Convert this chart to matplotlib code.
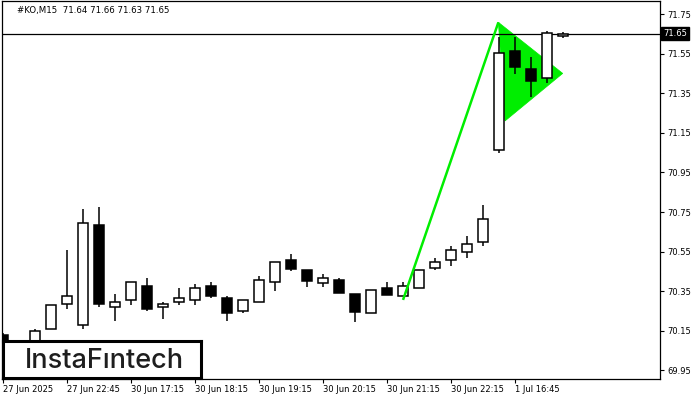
import matplotlib
matplotlib.use("Agg")
import matplotlib.pyplot as plt
from matplotlib.patches import Polygon, Rectangle
import numpy as np

# ---- data ----
opens = [70.13, 70.06, 70.10, 70.158, 70.284, 70.178, 70.684, 70.269, 70.304, 70.375,
         70.269, 70.294, 70.304, 70.375, 70.314, 70.248, 70.294, 70.395, 70.506, 70.456,
         70.393, 70.405, 70.334, 70.238, 70.365, 70.324, 70.365, 70.466, 70.506, 70.547,
         70.597, 71.062, 71.563, 71.472, 71.425, 71.64]
highs = [70.14, 70.08, 70.157, 70.279, 70.558, 70.764, 70.775, 70.334, 70.395, 70.415,
         70.294, 70.365, 70.385, 70.395, 70.324, 70.304, 70.427, 70.496, 70.538, 70.456,
         70.437, 70.415, 70.334, 70.355, 70.395, 70.395, 70.456, 70.516, 70.577, 70.627,
         70.785, 71.635, 71.635, 71.533, 71.666, 71.66]
lows = [70.08, 70.03, 70.09, 70.158, 70.259, 70.157, 70.269, 70.198, 70.279, 70.248,
        70.208, 70.279, 70.279, 70.314, 70.198, 70.238, 70.294, 70.352, 70.454, 70.373,
        70.373, 70.343, 70.196, 70.238, 70.332, 70.324, 70.365, 70.456, 70.476, 70.516,
        70.577, 71.047, 71.449, 71.332, 71.403, 71.63]
closes = [70.10, 70.07, 70.147, 70.279, 70.324, 70.693, 70.284, 70.294, 70.395, 70.259,
          70.284, 70.314, 70.365, 70.324, 70.238, 70.304, 70.405, 70.496, 70.464, 70.403,
          70.415, 70.343, 70.247, 70.355, 70.332, 70.375, 70.456, 70.496, 70.557, 70.587,
          70.713, 71.552, 71.481, 71.413, 71.652, 71.65]

xtick_pos = [0, 4, 8, 12, 16, 20, 24, 28, 32]
xtick_labels = ["27 Jun 2025", "27 Jun 22:45", "30 Jun 17:15", "30 Jun 18:15",
                "30 Jun 19:15", "30 Jun 20:15", "30 Jun 21:15", "30 Jun 22:15",
                "1 Jul 16:45"]
ytick_vals = [69.95, 70.15, 70.35, 70.55, 70.75, 70.95, 71.15, 71.35, 71.55, 71.75]

last_price = 71.65
header = "#KO,M15  71.64 71.66 71.63 71.65"

# pennant pattern (pole and flag) in bar-index / price coordinates
pole_x = [25.0, 30.96]
pole_y = [70.306, 71.708]
flag_x = [30.96, 34.98, 31.375]
flag_y = [71.708, 71.450, 71.210]

# ---- figure ----
W, H = 700, 400
fig = plt.figure(figsize=(W / 100, H / 100), dpi=100)
ax = fig.add_axes([2 / W, (H - 379) / H, (660 - 2) / W, (379 - 1) / H])

ax.set_xlim(-0.0625, 41.06)
ax.set_ylim(69.9066, 71.8157)

green = "#00ee00"
ax.add_patch(Polygon(list(zip(flag_x, flag_y)), closed=True, facecolor=green,
                     edgecolor=green, lw=0.5, zorder=1))

n = len(opens)
xs = np.arange(n)
bw = 0.62
for i in range(n):
    o, h, l, c = opens[i], highs[i], lows[i], closes[i]
    top, bot = max(o, c), min(o, c)
    up = c >= o
    ax.vlines(xs[i], top, h, color="black", lw=1.1, zorder=2)
    ax.vlines(xs[i], l, bot, color="black", lw=1.1, zorder=2)
    hgt = max(top - bot, 0.004)
    ax.add_patch(Rectangle((xs[i] - bw / 2, bot), bw, hgt,
                           facecolor="white" if up else "black",
                           edgecolor="black", lw=1.1, zorder=3))

ax.plot(pole_x, pole_y, color=green, lw=1.8, zorder=4, solid_capstyle="butt")

ax.axhline(last_price, color="black", lw=0.9, zorder=2)

for s in ax.spines.values():
    s.set_linewidth(0.9)
    s.set_color("black")

ax.set_xticks(xtick_pos)
ax.set_xticklabels(xtick_labels)
ax.tick_params(axis="x", direction="out", length=3, width=0.8, pad=1, labelsize=6,
               colors="black")
for lab in ax.get_xticklabels():
    lab.set_ha("left")

ax.yaxis.tick_right()
ax.set_yticks(ytick_vals)
ax.set_yticklabels([f"{v:.2f}" for v in ytick_vals])
ax.tick_params(axis="y", direction="out", length=3, width=0.8, pad=2, labelsize=6,
               colors="black")

# last price label
ax.text(1.0 + 3 / 658, last_price, f"{last_price:.2f}", transform=ax.get_yaxis_transform(),
        ha="left", va="center", fontsize=6, color="white",
        bbox=dict(boxstyle="square,pad=0.25", facecolor="black", edgecolor="black"),
        clip_on=False, zorder=6)

# header
fig.text(17 / W, 1 - 11 / H, header, ha="left", va="center", fontsize=6.2, color="black")

# logo box
logo_ax = fig.add_axes([3 / W, (H - 378) / H, (201 - 3) / W, (378 - 341) / H])
logo_ax.set_xticks([])
logo_ax.set_yticks([])
logo_ax.set_facecolor("white")
for s in logo_ax.spines.values():
    s.set_linewidth(2.2)
    s.set_color("black")
logo_ax.text(0.51, 0.47, "InstaF\u0131ntech", ha="center", va="center",
             fontsize=19.5, color="#1e1e1e", family="Inter", fontweight="medium",
             transform=logo_ax.transAxes)

fig.savefig("out.png", dpi=100)
